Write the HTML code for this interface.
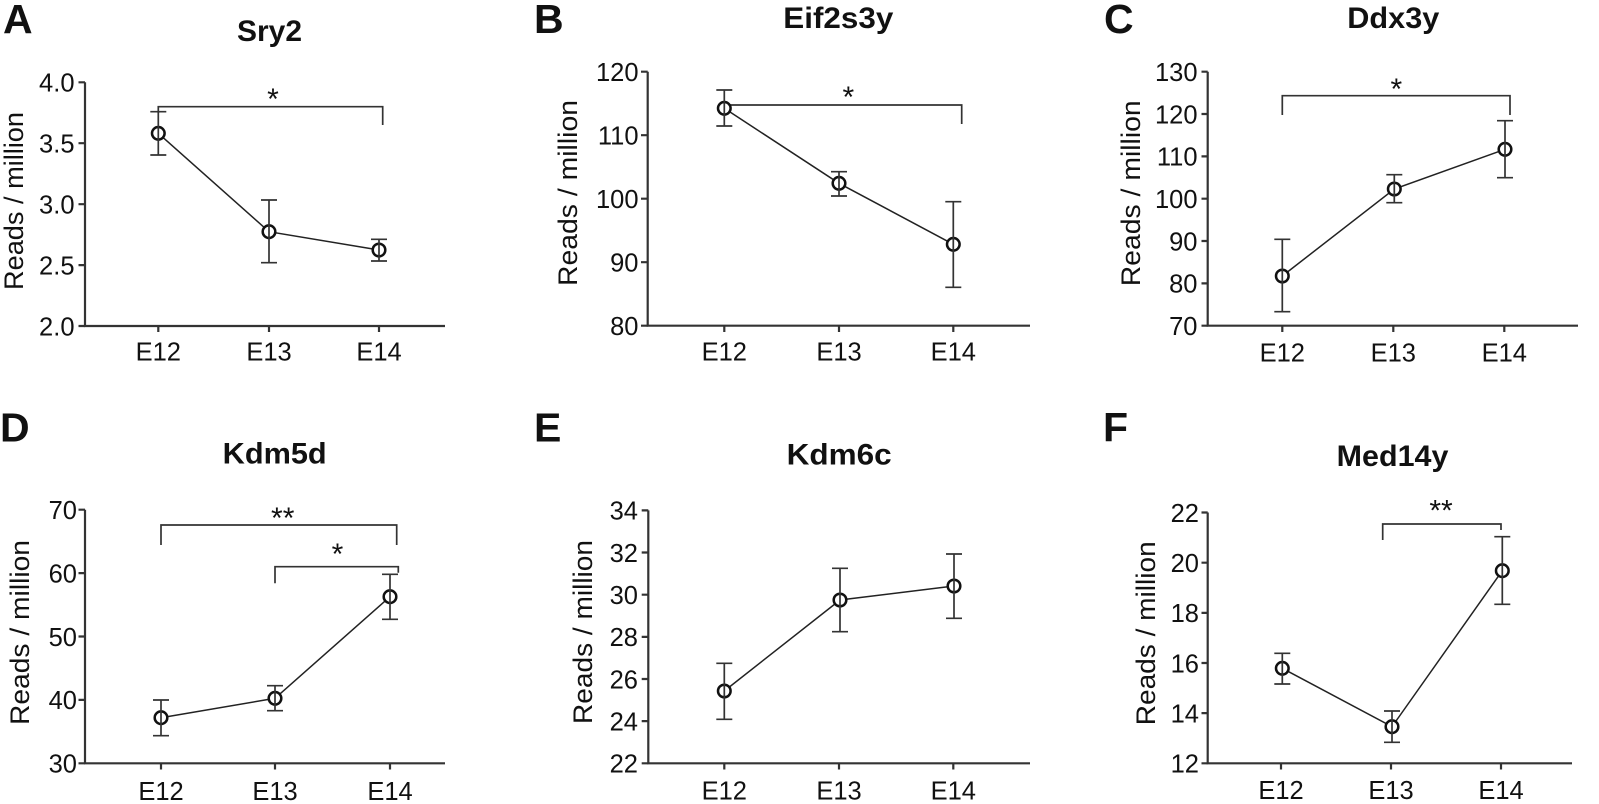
<!DOCTYPE html>
<html><head><meta charset="utf-8"><style>
html,body{margin:0;padding:0;background:#fff;}
svg{display:block;}
text{font-family:"Liberation Sans",Arial,sans-serif;fill:#111;}
.ax{stroke:#333;stroke-width:2.2;fill:none;}
.dl{stroke:#222;stroke-width:1.5;fill:none;}
.eb{stroke:#333;stroke-width:1.7;fill:none;}
.pt{stroke:#111;stroke-width:2.5;fill:#fff;}
.br{stroke:#333;stroke-width:1.7;fill:none;}
.yt{font-size:25.5px;}
.xt{font-size:25.5px;}
.ti{font-size:30px;font-weight:bold;}
.pl{font-size:41px;font-weight:bold;}
.yl{font-size:27px;}
.st{font-size:30px;}
</style></head><body>
<svg width="1599" height="804" viewBox="0 0 1599 804" xmlns="http://www.w3.org/2000/svg">

<!-- Panel letters -->
<text class="pl" x="3" y="33">A</text>
<text class="pl" x="534" y="33">B</text>
<text class="pl" x="1104" y="33">C</text>
<text class="pl" x="0" y="441.7">D</text>
<text class="pl" x="534" y="441.7">E</text>
<text class="pl" x="1103" y="441.7">F</text>

<!-- Titles -->
<text class="ti" x="237" y="41" textLength="65" lengthAdjust="spacingAndGlyphs">Sry2</text>
<text class="ti" x="783.3" y="28" textLength="110" lengthAdjust="spacingAndGlyphs">Eif2s3y</text>
<text class="ti" x="1347.3" y="28" textLength="92" lengthAdjust="spacingAndGlyphs">Ddx3y</text>
<text class="ti" x="222.7" y="463.3" textLength="104" lengthAdjust="spacingAndGlyphs">Kdm5d</text>
<text class="ti" x="786.7" y="464.3" textLength="105" lengthAdjust="spacingAndGlyphs">Kdm6c</text>
<text class="ti" x="1336.7" y="466" textLength="111.7" lengthAdjust="spacingAndGlyphs">Med14y</text>

<!-- Y axis labels -->
<text class="yl" transform="translate(23,201) rotate(-90)" x="-89" y="0" textLength="178" lengthAdjust="spacingAndGlyphs">Reads / million</text>
<text class="yl" transform="translate(577,193) rotate(-90)" x="-93" y="0" textLength="186" lengthAdjust="spacingAndGlyphs">Reads / million</text>
<text class="yl" transform="translate(1140,193.3) rotate(-90)" x="-93" y="0" textLength="186" lengthAdjust="spacingAndGlyphs">Reads / million</text>
<text class="yl" transform="translate(29,632.5) rotate(-90)" x="-92.5" y="0" textLength="185" lengthAdjust="spacingAndGlyphs">Reads / million</text>
<text class="yl" transform="translate(592,632) rotate(-90)" x="-92" y="0" textLength="184" lengthAdjust="spacingAndGlyphs">Reads / million</text>
<text class="yl" transform="translate(1155,633.3) rotate(-90)" x="-92" y="0" textLength="184" lengthAdjust="spacingAndGlyphs">Reads / million</text>

<!-- ===== Panel A ===== -->
<path class="ax" d="M85,82.3 V326 H445"/>
<path class="ax" d="M78.5,82.3H85 M78.5,143.2H85 M78.5,204.2H85 M78.5,265.1H85 M78.5,326H85 M158.3,326V332 M269,326V332 M379,326V332"/>
<g class="yt" text-anchor="end">
<text x="74.5" y="91.6">4.0</text><text x="74.5" y="152.5">3.5</text><text x="74.5" y="213.5">3.0</text><text x="74.5" y="274.4">2.5</text><text x="74.5" y="335.3">2.0</text>
</g>
<g class="xt" text-anchor="middle">
<text x="158.3" y="360.7">E12</text>
<text x="269" y="360.7">E13</text>
<text x="379" y="360.7">E14</text>
</g>
<path class="br" d="M158.3,113 V106.7 H382.7 V125"/>
<text class="st" x="273" y="109" text-anchor="middle">*</text>
<path class="dl" d="M158.3,133.3 L269,231.7 L379,250"/>
<circle class="pt" cx="158.3" cy="133.3" r="6.3"/>
<circle class="pt" cx="269" cy="231.7" r="6.3"/>
<circle class="pt" cx="379" cy="250" r="6.3"/>
<path class="eb" d="M158.3,111.7V155 M150.3,111.7H166.3 M150.3,155H166.3 M269,200V262.7 M261,200H277 M261,262.7H277 M379,239.3V261 M371,239.3H387 M371,261H387"/>

<!-- ===== Panel B ===== -->
<path class="ax" d="M647.7,71.7 V325.7 H1030"/>
<path class="ax" d="M641,71.7H647.7 M641,135.2H647.7 M641,198.7H647.7 M641,262.2H647.7 M641,325.7H647.7 M724.3,325.7V332 M839,325.7V332 M953.3,325.7V332"/>
<g class="yt" text-anchor="end">
<text x="638.5" y="81">120</text><text x="638.5" y="144.5">110</text><text x="638.5" y="208">100</text><text x="638.5" y="271.5">90</text><text x="638.5" y="335">80</text>
</g>
<g class="xt" text-anchor="middle">
<text x="724.3" y="360.7">E12</text>
<text x="839" y="360.7">E13</text>
<text x="953.3" y="360.7">E14</text>
</g>
<path class="br" d="M724.3,105 H961.7 V124"/>
<text class="st" x="848.3" y="107" text-anchor="middle">*</text>
<path class="dl" d="M724.3,108.3 L839,183.3 L953.3,244.3"/>
<circle class="pt" cx="724.3" cy="108.3" r="6.3"/>
<circle class="pt" cx="839" cy="183.3" r="6.3"/>
<circle class="pt" cx="953.3" cy="244.3" r="6.3"/>
<path class="eb" d="M724.3,90V126 M716.3,90H732.3 M716.3,126H732.3 M839,171.7V196 M831,171.7H847 M831,196H847 M953.3,201.7V287.3 M945.3,201.7H961.3 M945.3,287.3H961.3"/>

<!-- ===== Panel C ===== -->
<path class="ax" d="M1207.7,71.7 V325.7 H1578"/>
<path class="ax" d="M1201.5,71.7H1207.7 M1201.5,114H1207.7 M1201.5,156.4H1207.7 M1201.5,198.7H1207.7 M1201.5,241H1207.7 M1201.5,283.4H1207.7 M1201.5,325.7H1207.7 M1282.3,325.7V332 M1393.3,325.7V332 M1504.3,325.7V332"/>
<g class="yt" text-anchor="end">
<text x="1197.5" y="81">130</text><text x="1197.5" y="123.3">120</text><text x="1197.5" y="165.7">110</text><text x="1197.5" y="208">100</text><text x="1197.5" y="250.3">90</text><text x="1197.5" y="292.7">80</text><text x="1197.5" y="335">70</text>
</g>
<g class="xt" text-anchor="middle">
<text x="1282.3" y="361.5">E12</text>
<text x="1393.3" y="361.5">E13</text>
<text x="1504.3" y="361.5">E14</text>
</g>
<path class="br" d="M1282.3,115 V95.7 H1510 V115"/>
<text class="st" x="1396.3" y="99" text-anchor="middle">*</text>
<path class="dl" d="M1282.3,276 L1394.3,189 L1505,149.3"/>
<circle class="pt" cx="1282.3" cy="276" r="6.3"/>
<circle class="pt" cx="1394.3" cy="189" r="6.3"/>
<circle class="pt" cx="1505" cy="149.3" r="6.3"/>
<path class="eb" d="M1282.3,239.3V311.7 M1274.3,239.3H1290.3 M1274.3,311.7H1290.3 M1394.3,174.7V202.7 M1386.3,174.7H1402.3 M1386.3,202.7H1402.3 M1505,120.7V177.7 M1497,120.7H1513 M1497,177.7H1513"/>

<!-- ===== Panel D ===== -->
<path class="ax" d="M85,509.7 V763.3 H445"/>
<path class="ax" d="M78.5,509.7H85 M78.5,573.1H85 M78.5,636.5H85 M78.5,699.9H85 M78.5,763.3H85 M161,763.3V769.5 M275,763.3V769.5 M390,763.3V769.5"/>
<g class="yt" text-anchor="end">
<text x="77" y="519">70</text><text x="77" y="582.4">60</text><text x="77" y="645.8">50</text><text x="77" y="709.2">40</text><text x="77" y="772.6">30</text>
</g>
<g class="xt" text-anchor="middle">
<text x="161" y="800">E12</text>
<text x="275" y="800">E13</text>
<text x="390" y="800">E14</text>
</g>
<path class="br" d="M161,545 V525 H396.7 V545"/>
<text class="st" x="282.7" y="528" text-anchor="middle">**</text>
<path class="br" d="M275,583.3 V566.7 H398.3 V572.7"/>
<text class="st" x="337.5" y="564" text-anchor="middle">*</text>
<path class="dl" d="M161,717.7 L275,698.3 L390,596.7"/>
<circle class="pt" cx="161" cy="717.7" r="6.3"/>
<circle class="pt" cx="275" cy="698.3" r="6.3"/>
<circle class="pt" cx="390" cy="596.7" r="6.3"/>
<path class="eb" d="M161,700V735.7 M153,700H169 M153,735.7H169 M275,685.7V710.7 M267,685.7H283 M267,710.7H283 M390,574.3V619.3 M382,574.3H398 M382,619.3H398"/>

<!-- ===== Panel E ===== -->
<path class="ax" d="M648.3,510.4 V763.3 H1030"/>
<path class="ax" d="M641.7,510.4H648.3 M641.7,552.5H648.3 M641.7,594.7H648.3 M641.7,636.9H648.3 M641.7,679H648.3 M641.7,721.1H648.3 M641.7,763.3H648.3 M724.3,763.3V769.5 M839,763.3V769.5 M953.3,763.3V769.5"/>
<g class="yt" text-anchor="end">
<text x="638" y="519.7">34</text><text x="638" y="561.8">32</text><text x="638" y="604">30</text><text x="638" y="646.2">28</text><text x="638" y="688.3">26</text><text x="638" y="730.4">24</text><text x="638" y="772.6">22</text>
</g>
<g class="xt" text-anchor="middle">
<text x="724.3" y="799.3">E12</text>
<text x="839" y="799.3">E13</text>
<text x="953.3" y="799.3">E14</text>
</g>
<path class="dl" d="M724.3,691 L840,600 L954,586"/>
<circle class="pt" cx="724.3" cy="691" r="6.3"/>
<circle class="pt" cx="840" cy="600" r="6.3"/>
<circle class="pt" cx="954" cy="586" r="6.3"/>
<path class="eb" d="M724.3,663.3V719.3 M716.3,663.3H732.3 M716.3,719.3H732.3 M840,568.3V631.7 M832,568.3H848 M832,631.7H848 M954,554V618.3 M946,554H962 M946,618.3H962"/>

<!-- ===== Panel F ===== -->
<path class="ax" d="M1207.7,512.5 V763.3 H1572"/>
<path class="ax" d="M1201.5,512.5H1207.7 M1201.5,562.7H1207.7 M1201.5,612.9H1207.7 M1201.5,663H1207.7 M1201.5,713.1H1207.7 M1201.5,763.3H1207.7 M1281,763.3V769.5 M1391,763.3V769.5 M1501,763.3V769.5"/>
<g class="yt" text-anchor="end">
<text x="1199" y="521.8">22</text><text x="1199" y="572">20</text><text x="1199" y="622.2">18</text><text x="1199" y="672.3">16</text><text x="1199" y="722.4">14</text><text x="1199" y="772.6">12</text>
</g>
<g class="xt" text-anchor="middle">
<text x="1281" y="799">E12</text>
<text x="1391" y="799">E13</text>
<text x="1501" y="799">E14</text>
</g>
<path class="br" d="M1382.7,540 V524 H1501 V530"/>
<text class="st" x="1441" y="520.5" text-anchor="middle">**</text>
<path class="dl" d="M1282.3,668.3 L1392,726.7 L1502.3,570.7"/>
<circle class="pt" cx="1282.3" cy="668.3" r="6.3"/>
<circle class="pt" cx="1392" cy="726.7" r="6.3"/>
<circle class="pt" cx="1502.3" cy="570.7" r="6.3"/>
<path class="eb" d="M1282.3,653.3V684 M1274.3,653.3H1290.3 M1274.3,684H1290.3 M1392,711V742.3 M1384,711H1400 M1384,742.3H1400 M1502.3,536.7V604.3 M1494.3,536.7H1510.3 M1494.3,604.3H1510.3"/>

</svg>
</body></html>
